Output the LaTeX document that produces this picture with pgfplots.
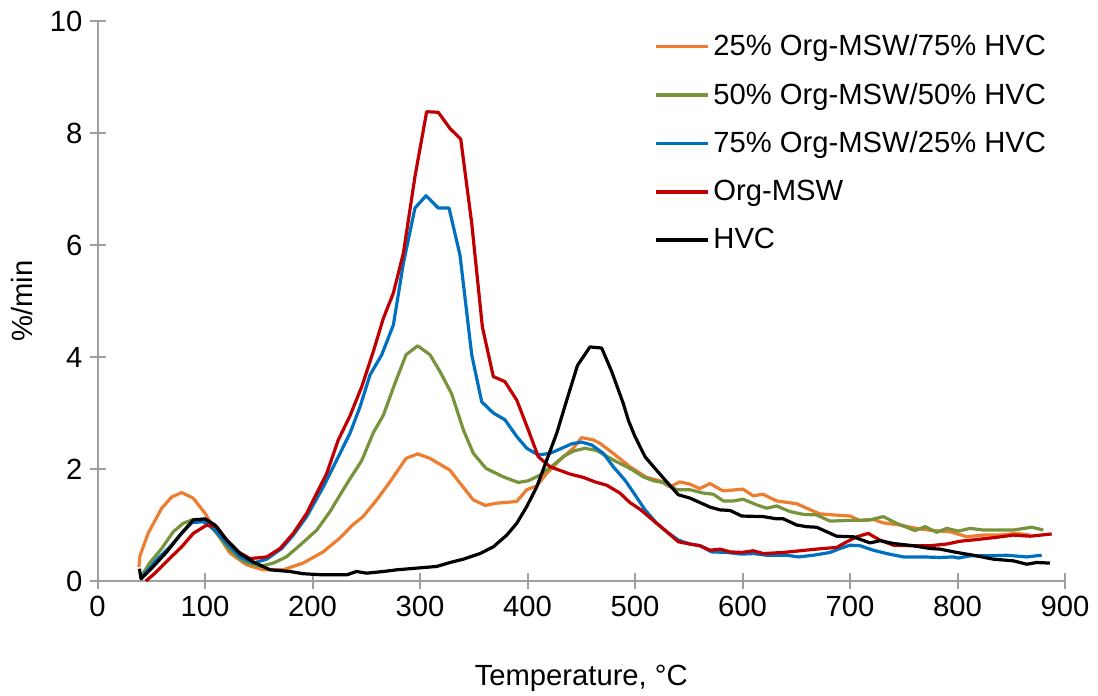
\documentclass[border=0pt]{standalone}
\usepackage{fontspec}
\setmainfont{Liberation Sans}
\usepackage{pgfplots}
\pgfplotsset{compat=1.18}
\definecolor{cOrange}{RGB}{237,125,49}
\definecolor{cGreen}{RGB}{119,147,60}
\definecolor{cBlue}{RGB}{0,112,192}
\definecolor{cRed}{RGB}{192,0,0}
\definecolor{axgray}{RGB}{160,160,160}
\newcommand{\cf}{\fontsize{14.6pt}{17pt}\selectfont}
\begin{document}
\begin{tikzpicture}
\begin{axis}[
  scale only axis,
  width=483.75pt, height=280pt,
  xmin=0, xmax=900, ymin=0, ymax=10,
  axis x line=bottom, axis y line=left,
  axis line style={-, axgray, line width=1pt},
  xtick={0,100,...,900}, ytick={0,2,...,10},
  tick align=center, major tick length=8pt,
  tick style={axgray, line width=1pt},
  /pgf/number format/assume math mode=true,
  ticklabel style={font=\cf},
  label style={font=\cf},
  xlabel={Temperature, °C},
  ylabel={\%/min},
  xlabel style={at={(axis description cs:0.5,-0.173)}, anchor=center},
  ylabel style={at={(axis description cs:-0.078,0.5)}, anchor=center},
  legend cell align=left,
  legend style={draw=none, fill=none, font=\cf, at={(rel axis cs:0.575,0.984)}, anchor=north west,
    row sep=8.25pt, inner sep=0pt},
  legend image code/.code={\draw[#1] plot coordinates {(0pt,0pt) (26pt,0pt)};},
  every axis plot/.append style={line width=1.6pt, line join=round},
]
\addplot[cOrange] coordinates {
(38.5,0.25)(39.5,0.45)(47.3,0.86)(59.7,1.30)(69,1.50)(78.3,1.58)(89,1.48)(100,1.21)(110.9,0.86)(123.2,0.50)(138.5,0.29)(154,0.20)(172.7,0.20)(191.3,0.32)(209.9,0.52)(225.6,0.77)(237.3,1.00)(247,1.15)(259.8,1.45)(272,1.77)(287,2.19)(297.8,2.27)(309.2,2.19)(327.8,1.98)(340,1.68)(349.5,1.45)(360.6,1.35)(371.4,1.39)(390,1.42)(399.3,1.63)(408.6,1.70)(417.8,1.92)(430,2.16)(442.5,2.37)(450.3,2.56)(461.1,2.52)(467.3,2.46)(479.7,2.28)(495.3,2.04)(510.8,1.85)(523,1.79)(532.5,1.68)(541.6,1.77)(551.1,1.73)(560.2,1.65)(569.7,1.74)(581.8,1.61)(600.4,1.64)(610.1,1.52)(619,1.55)(631.7,1.43)(650.3,1.38)(659.7,1.30)(671.8,1.20)(684.5,1.18)(700.2,1.16)(709,1.08)(721.7,1.10)(730.5,1.04)(746.2,1.00)(761.8,0.94)(777.5,0.90)(793.1,0.88)(808.8,0.79)(824,0.82)(839.1,0.82)(854.8,0.85)(867.5,0.82)};
\addlegendentry{25\% Org-MSW/75\% HVC}
\addplot[cGreen] coordinates {
(39.6,0.05)(48.4,0.32)(59.7,0.58)(70.5,0.88)(79.7,1.03)(89,1.10)(100,1.09)(110.9,0.85)(123.2,0.55)(135.5,0.35)(151.2,0.26)(163.5,0.32)(175.6,0.43)(188.4,0.64)(204,0.91)(216.3,1.24)(226,1.55)(235,1.83)(245.8,2.15)(256.6,2.65)(265.9,2.96)(276.7,3.53)(287,4.04)(297.9,4.20)(309.3,4.04)(318.6,3.74)(329.5,3.34)(340.3,2.70)(349.6,2.28)(361.4,2.01)(377.5,1.86)(391.4,1.76)(400.7,1.79)(411.6,1.89)(424,2.07)(433.3,2.22)(442.6,2.32)(453.5,2.37)(464.4,2.33)(479.8,2.16)(495.3,2.01)(507.7,1.86)(517,1.79)(526.3,1.76)(538.8,1.63)(551.2,1.63)(563.5,1.57)(572.8,1.55)(582.1,1.43)(591.4,1.43)(600.7,1.46)(613.2,1.36)(622.5,1.30)(631.8,1.34)(644.2,1.24)(656.6,1.19)(669,1.18)(681.4,1.07)(697,1.08)(718.6,1.09)(731,1.15)(743.4,1.03)(760.5,0.90)(769.8,0.97)(780.7,0.87)(790,0.94)(800.7,0.89)(811.6,0.94)(824,0.91)(839.5,0.91)(851.9,0.91)(869,0.96)(879.8,0.91)};
\addlegendentry{50\% Org-MSW/50\% HVC}
\addplot[cBlue] coordinates {
(40.5,0.05)(55,0.38)(67.4,0.61)(78.3,0.85)(87.6,1.04)(98.4,1.06)(109.3,0.91)(120.2,0.67)(132.6,0.43)(144.9,0.32)(157.4,0.39)(171.3,0.58)(182.1,0.82)(194.6,1.15)(210,1.68)(222.5,2.16)(234.9,2.64)(244.2,3.11)(253.5,3.68)(264.4,4.04)(275.2,4.57)(284.5,5.67)(295.3,6.66)(305.6,6.88)(317,6.66)(327,6.66)(337.2,5.82)(348.1,4.04)(357.4,3.20)(368.2,3.00)(379,2.88)(390,2.58)(399.3,2.37)(410,2.25)(421,2.28)(431.8,2.37)(441.1,2.45)(450.4,2.48)(459.7,2.43)(470.5,2.28)(479.8,2.04)(490.7,1.80)(500,1.54)(509.3,1.27)(520.2,1.03)(529.5,0.88)(540.3,0.73)(551.2,0.66)(560.5,0.63)(571.3,0.52)(585.3,0.51)(599.3,0.48)(610,0.49)(622.5,0.46)(641.1,0.46)(652,0.43)(665.9,0.46)(681.4,0.51)(690.7,0.58)(700,0.64)(709.3,0.63)(721.7,0.55)(734.1,0.49)(749.6,0.43)(768.2,0.43)(783.7,0.42)(796.1,0.43)(800.8,0.41)(811.6,0.45)(830.2,0.45)(845.8,0.46)(864.4,0.43)(878.3,0.46)};
\addlegendentry{75\% Org-MSW/25\% HVC}
\addplot[cRed] coordinates {
(45,0.0)(53.5,0.14)(65.9,0.38)(78.3,0.61)(89.1,0.85)(101.6,1.00)(110.9,0.97)(120.2,0.73)(131,0.52)(141.9,0.40)(157.4,0.43)(169.8,0.58)(182.1,0.85)(194.6,1.21)(213.2,1.92)(224,2.52)(234.9,2.95)(245.8,3.47)(256.6,4.10)(265.9,4.69)(275.2,5.14)(284.5,5.85)(295.3,7.22)(306.2,8.38)(317,8.37)(327.9,8.08)(337.9,7.89)(348.1,6.39)(358,4.54)(368.2,3.65)(379,3.56)(390,3.23)(400.7,2.70)(410,2.22)(421,2.04)(439.5,1.91)(451.9,1.85)(462.8,1.77)(473.7,1.71)(486,1.57)(495.3,1.40)(504.7,1.28)(520.2,1.03)(529.5,0.88)(540.3,0.70)(551.2,0.66)(560.5,0.63)(569.8,0.55)(579.1,0.57)(588.4,0.52)(599.3,0.51)(610,0.54)(619.3,0.49)(638,0.51)(653.5,0.54)(669,0.57)(687.6,0.60)(697,0.70)(706.2,0.79)(717,0.85)(727.9,0.73)(740.3,0.64)(755.8,0.63)(774.4,0.63)(790,0.66)(802.3,0.71)(817.8,0.74)(836.4,0.78)(851.9,0.82)(867.4,0.80)(887.6,0.84)};
\addlegendentry{Org-MSW}
\addplot[black] coordinates {
(39,0.22)(40.5,0.04)(51.9,0.26)(64.4,0.52)(76.7,0.82)(89.1,1.09)(100,1.11)(109.3,1.00)(120.2,0.73)(132.6,0.49)(144.9,0.34)(160.5,0.20)(179,0.17)(191.4,0.13)(210,0.11)(231.8,0.11)(241.1,0.17)(250.4,0.14)(266,0.17)(278.3,0.20)(296.9,0.23)(315.5,0.26)(327.9,0.33)(340.3,0.39)(355.8,0.49)(368.2,0.61)(380.7,0.82)(390,1.03)(399.3,1.33)(408.6,1.68)(417.9,2.16)(427.2,2.64)(436.5,3.23)(446.5,3.85)(458.1,4.18)(469,4.16)(478.3,3.74)(489.1,3.17)(494,2.86)(500,2.58)(509.3,2.22)(518.6,2.01)(529.5,1.77)(540.3,1.54)(551.2,1.48)(569.8,1.32)(579.1,1.27)(588.4,1.26)(599.3,1.16)(619.3,1.15)(631.8,1.11)(638,1.11)(650.4,1.00)(659.7,0.97)(669,0.96)(687.6,0.80)(703.1,0.79)(718.6,0.68)(727.9,0.72)(740.3,0.67)(758.9,0.63)(774.4,0.58)(783.7,0.57)(799.3,0.51)(814.7,0.46)(833.3,0.39)(851.9,0.36)(864.4,0.30)(873.7,0.33)(886,0.32)};
\addlegendentry{HVC}
\end{axis}
\pgfresetboundingbox
\path[use as bounding box] ([shift={(-48.75pt,-57pt)}]current axis.south west) rectangle ([shift={(16.5pt,10.5pt)}]current axis.north east);
\end{tikzpicture}
\end{document}
